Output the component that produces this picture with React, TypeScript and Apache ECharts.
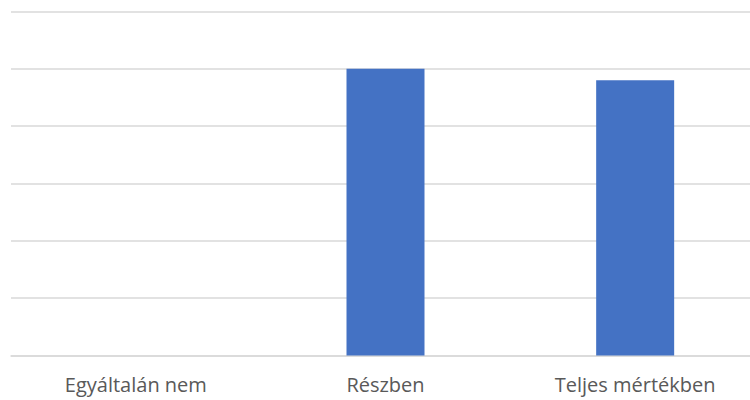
import React, { useEffect, useRef } from "react";
import * as echarts from "echarts";

const categories = ["Egyáltalán nem", "Részben", "Teljes mértékben"];
const values = [0, 5, 4.8];
const yTicks = { min: 0, max: 6, interval: 1 };

export default function App() {
  const ref = useRef<HTMLDivElement>(null);
  useEffect(() => {
    const chart = echarts.init(ref.current!, null, { renderer: "svg" });
    chart.setOption({
      animation: false,
      grid: { left: 11, right: 0, top: 11.5, bottom: 44.5, containLabel: false },
      xAxis: {
        type: "category",
        data: categories,
        axisLine: { show: true, lineStyle: { color: "#d9d9d9", width: 1.5 } },
        axisTick: { show: false },
        axisLabel: {
          color: "#595959",
          fontSize: 20,
          fontFamily: "Open Sans",
          margin: 19,
        },
      },
      yAxis: {
        type: "value",
        min: yTicks.min,
        max: yTicks.max,
        interval: yTicks.interval,
        axisLabel: { show: false },
        axisLine: { show: false },
        axisTick: { show: false },
        splitLine: { show: true, lineStyle: { color: "#d9d9d9", width: 1.5 } },
      },
      series: [
        {
          type: "bar",
          data: values,
          barWidth: 78,
          itemStyle: { color: "#4472c4" },
        },
      ],
    });
    return () => chart.dispose();
  }, []);
  return (
    <div style={{ position: "fixed", left: 0, top: 0, width: 750, height: 400, overflow: "hidden", background: "#fff" }}>
      <div ref={ref} style={{ width: 760, height: 400 }} />
    </div>
  );
}
